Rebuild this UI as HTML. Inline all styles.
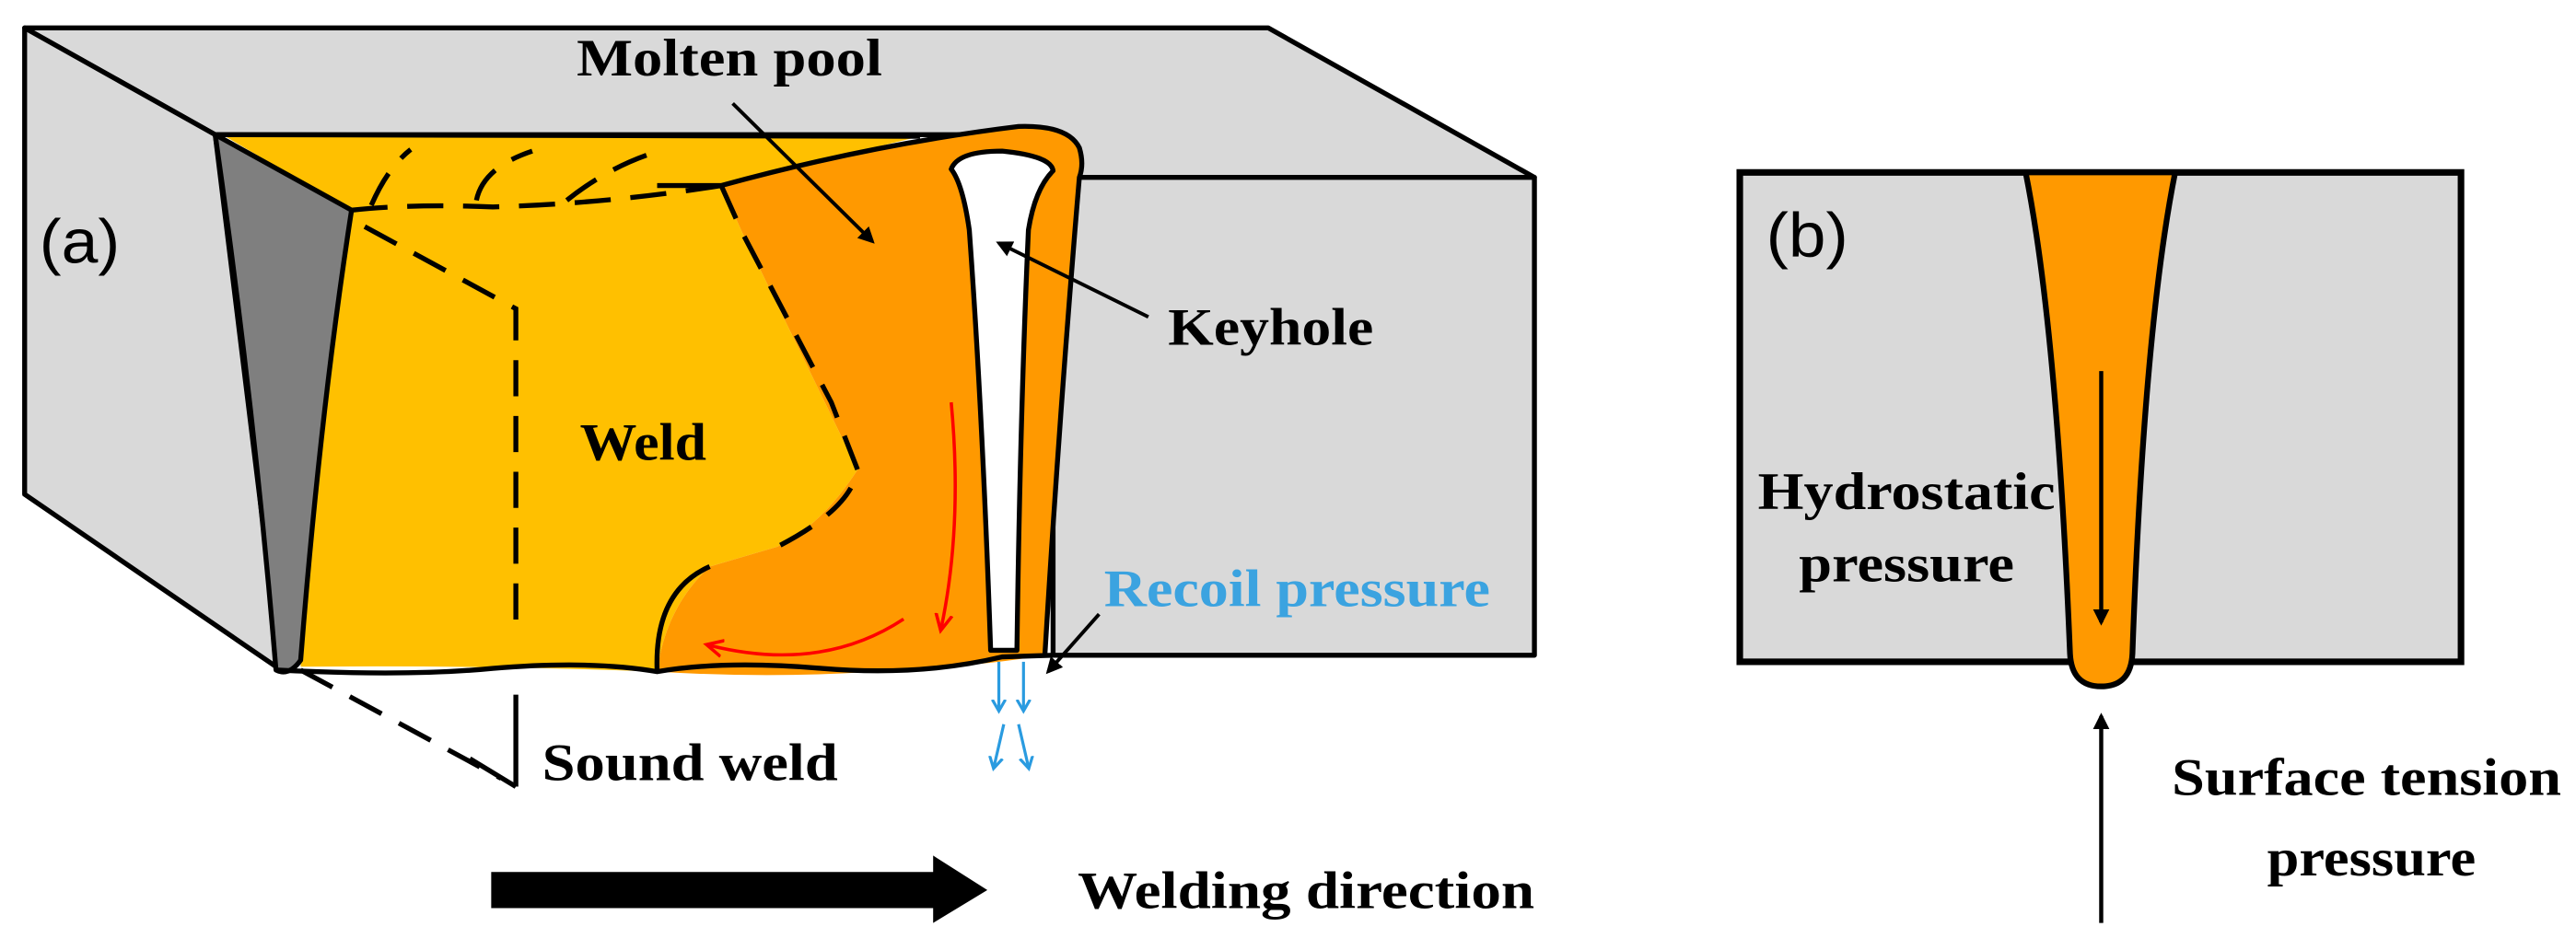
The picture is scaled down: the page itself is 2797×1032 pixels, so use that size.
<!DOCTYPE html>
<html><head><meta charset="utf-8"><style>
html,body{margin:0;padding:0;background:#fff;}
svg{display:block;}
text{font-family:"Liberation Serif",serif;font-weight:bold;fill:#000;}
</style></head><body>
<svg width="2797" height="1032" viewBox="0 0 1568 578.5" preserveAspectRatio="none" xmlns="http://www.w3.org/2000/svg">
<defs>
<marker id="ah" markerWidth="10" markerHeight="10" refX="8" refY="5" orient="auto" markerUnits="userSpaceOnUse"><path d="M0,0 L10,5 L0,10 Z" fill="#000"/></marker>
<marker id="ar" markerWidth="12" markerHeight="12" refX="8" refY="6" orient="auto" markerUnits="userSpaceOnUse"><path d="M0,1 L10,6 L0,11" fill="none" stroke="#f00" stroke-width="2"/></marker>
<marker id="ab" markerWidth="10" markerHeight="10" refX="6" refY="5" orient="auto" markerUnits="userSpaceOnUse"><path d="M0,1 L7,5 L0,9" fill="none" stroke="#2a9be0" stroke-width="1.8"/></marker>
</defs>
<!-- left block -->
<polygon points="15,17 772,17 934,108 641,108 629,82 131,82" fill="#d9d9d9" stroke="#000" stroke-width="3" stroke-linejoin="round"/>
<polygon points="15,17 131,82 171,408 15,301" fill="#d9d9d9" stroke="#000" stroke-width="3" stroke-linejoin="round"/>
<polygon points="641,108 934,108 934,399 641,399" fill="#d9d9d9" stroke="#000" stroke-width="3" stroke-linejoin="round"/>
<!-- yellow weld -->
<path d="M137,83 L560,83 Q490,100 439,113 L452,142 L522,286 Q500,320 473,333 L432,345 Q405,370 400,409 Q300,405 183,406 Q190,250 214,128 Z" fill="#ffc000"/>
<!-- orange pool -->
<path d="M439,113 Q530,88 620,77 Q650,76 657,90 Q660,100 657,108 Q645,250 636,399 Q600,405 560,407 Q480,414 400,409 Q405,370 432,345 L473,333 Q500,320 522,286 L452,142 Z" fill="#ff9900"/>
<!-- dark sliver -->
<path d="M131,82 L214,128 Q195,250 183,402 Q176,412 168,408 Q155,250 131,82 Z" fill="#7f7f7f" stroke="#000" stroke-width="3" stroke-linejoin="round"/>
<!-- outlines -->
<path d="M131,82 L560,83" fill="none" stroke="#000" stroke-width="3"/>
<path d="M400,113 L439,113 Q530,88 620,77 Q650,76 657,90 Q660,100 657,108 Q645,250 636,399" fill="none" stroke="#000" stroke-width="3"/>
<path d="M168,408 Q250,412 300,407 Q360,402 400,409 Q440,402 500,407 Q560,412 610,400 L641,399" fill="none" stroke="#000" stroke-width="3"/>
<path d="M400,409 Q398,360 432,345" fill="none" stroke="#000" stroke-width="3"/>
<!-- keyhole -->
<path d="M579,103 Q583,92 610,92 Q640,95 641,104 Q630,115 626,140 Q621,250 619,396 L603,396 Q598,250 590,140 Q586,112 579,103 Z" fill="#fff" stroke="#000" stroke-width="3" stroke-linejoin="round"/>
<!-- dashed lines -->
<g fill="none" stroke="#000" stroke-width="3" stroke-dasharray="22,12">
<path d="M214,128 Q250,124 300,126 Q370,124 439,113"/>
<path d="M226,125 Q236,102 250,91"/>
<path d="M290,122 Q294,102 324,92"/>
<path d="M345,122 Q370,102 398,93"/>
<path d="M222,138 L314,188 L314,382"/>
<path d="M439,113 L452,142 L506,245 L522,286 Q518,310 473,333"/>
<path d="M183,408 L305,474"/>
</g>
<line x1="314" y1="423" x2="314" y2="479" stroke="#000" stroke-width="3"/>
<line x1="286" y1="462" x2="314" y2="479" stroke="#000" stroke-width="3"/>
<!-- red flow arrows -->
<path d="M579,245 Q586,320 573,382" fill="none" stroke="#f00" stroke-width="2" marker-end="url(#ar)"/>
<path d="M550,377 Q500,410 432,393" fill="none" stroke="#f00" stroke-width="2" marker-end="url(#ar)"/>
<!-- blue recoil arrows -->
<g stroke="#2a9be0" stroke-width="1.8" fill="none">
<line x1="608" y1="403" x2="608" y2="432" marker-end="url(#ab)"/>
<line x1="623" y1="403" x2="623" y2="432" marker-end="url(#ab)"/>
<line x1="611" y1="441" x2="605" y2="467" marker-end="url(#ab)"/>
<line x1="620" y1="441" x2="626" y2="467" marker-end="url(#ab)"/>
</g>
<!-- leaders -->
<line x1="446" y1="63" x2="531" y2="147" stroke="#000" stroke-width="2.2" marker-end="url(#ah)"/>
<line x1="699" y1="193" x2="608" y2="148" stroke="#000" stroke-width="2.2" marker-end="url(#ah)"/>
<line x1="669" y1="374" x2="638" y2="409" stroke="#000" stroke-width="2.2" marker-end="url(#ah)"/>
<!-- big arrow -->
<polygon points="299,531 568,531 568,521 601,542 568,562 568,553 299,553" fill="#000"/>
<!-- labels -->
<text x="351" y="46" font-size="32" textLength="186" lengthAdjust="spacingAndGlyphs">Molten pool</text>
<text x="24" y="160" font-size="38" textLength="49" lengthAdjust="spacingAndGlyphs" style="font-family:'Liberation Sans',sans-serif;font-weight:normal">(a)</text>
<text x="353" y="280" font-size="32" textLength="77" lengthAdjust="spacingAndGlyphs">Weld</text>
<text x="711" y="210" font-size="32" textLength="125" lengthAdjust="spacingAndGlyphs">Keyhole</text>
<text x="672" y="369" font-size="32" textLength="235" lengthAdjust="spacingAndGlyphs" style="fill:#3ba3e0">Recoil pressure</text>
<text x="330" y="475" font-size="32" textLength="180" lengthAdjust="spacingAndGlyphs">Sound weld</text>
<text x="656" y="553" font-size="32" textLength="278" lengthAdjust="spacingAndGlyphs">Welding direction</text>
<!-- (b) -->
<rect x="1059" y="105" width="439" height="298" fill="#d9d9d9" stroke="#000" stroke-width="4"/>
<path d="M1233,105 L1324,105 Q1305,200 1298,398 Q1297,418 1279,418 Q1261,418 1260,398 Q1252,200 1233,105 Z" fill="#ff9900" stroke="#000" stroke-width="3.5" stroke-linejoin="round"/>
<line x1="1279" y1="226" x2="1279" y2="379" stroke="#000" stroke-width="2.5" marker-end="url(#ah)"/>
<line x1="1279" y1="562" x2="1279" y2="436" stroke="#000" stroke-width="2.5" marker-end="url(#ah)"/>
<text x="1075" y="156" font-size="38" textLength="50" lengthAdjust="spacingAndGlyphs" style="font-family:'Liberation Sans',sans-serif;font-weight:normal">(b)</text>
<text x="1070" y="310" font-size="32" textLength="181" lengthAdjust="spacingAndGlyphs">Hydrostatic</text>
<text x="1095" y="354" font-size="32" textLength="131" lengthAdjust="spacingAndGlyphs">pressure</text>
<text x="1322" y="484" font-size="32" textLength="237" lengthAdjust="spacingAndGlyphs">Surface tension</text>
<text x="1380" y="533" font-size="32" textLength="127" lengthAdjust="spacingAndGlyphs">pressure</text>
</svg>
</body></html>
